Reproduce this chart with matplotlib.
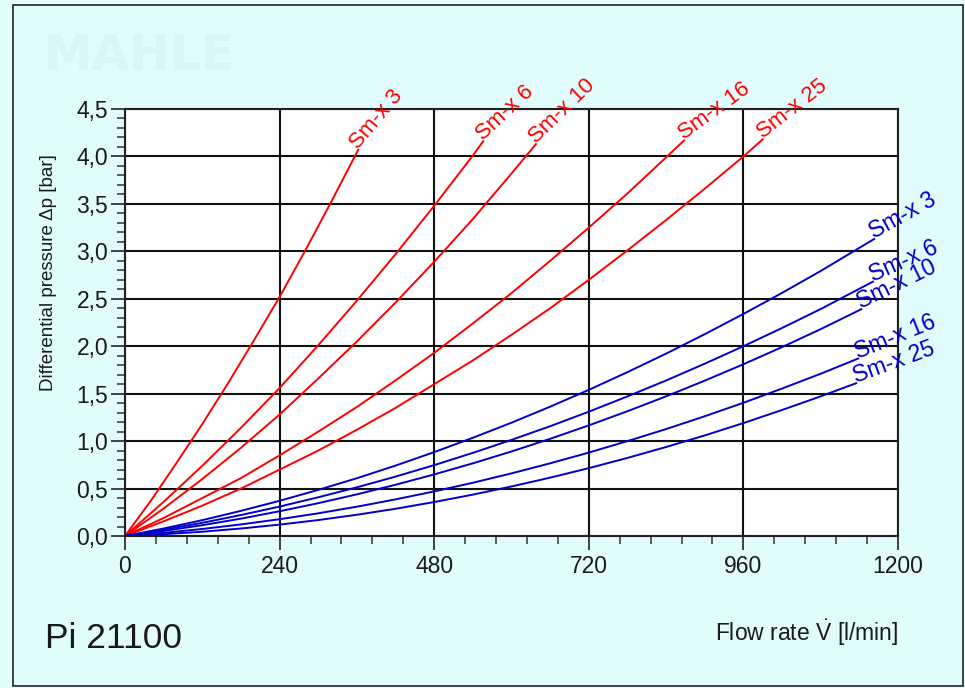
import matplotlib
matplotlib.use("Agg")
import matplotlib.pyplot as plt
from matplotlib.patches import Rectangle
from matplotlib.ticker import MultipleLocator, FixedLocator

plt.rcParams['font.family'] = ['Liberation Sans', 'DejaVu Sans']
plt.rcParams['mathtext.fontset'] = 'custom'
plt.rcParams['mathtext.rm'] = 'Liberation Sans'
plt.rcParams['mathtext.it'] = 'Liberation Sans:italic'
plt.rcParams['mathtext.bf'] = 'Liberation Sans:bold'

# ---------------- data ----------------
x_ticks = [0, 240, 480, 720, 960, 1200]
y_ticks = [0.0, 0.5, 1.0, 1.5, 2.0, 2.5, 3.0, 3.5, 4.0, 4.5]
y_ticklabels = ["0,0", "0,5", "1,0", "1,5", "2,0", "2,5", "3,0", "3,5", "4,0", "4,5"]

labels = ["Sm-x 3", "Sm-x 6", "Sm-x 10", "Sm-x 16", "Sm-x 25"]

# red family
red_q_3 = [0, 40, 80, 120, 160, 200, 240, 280, 320, 362]
red_p_3 = [0, 0.37, 0.77, 1.18, 1.61, 2.06, 2.52, 3.01, 3.52, 4.07]
red_q_6 = [0, 60, 120, 180, 240, 300, 360, 420, 480, 540, 556]
red_p_6 = [0, 0.36, 0.74, 1.14, 1.56, 2.01, 2.48, 2.97, 3.48, 4.01, 4.16]
red_q_10 = [0, 60, 120, 180, 240, 300, 360, 420, 480, 540, 600, 638]
red_p_10 = [0, 0.29, 0.60, 0.93, 1.28, 1.66, 2.05, 2.46, 2.89, 3.34, 3.82, 4.13]
red_q_16 = [0, 60, 120, 180, 240, 300, 360, 420, 480, 540, 600, 660, 720, 780, 840, 868]
red_p_16 = [0, 0.19, 0.40, 0.61, 0.85, 1.10, 1.36, 1.64, 1.93, 2.24, 2.56, 2.90, 3.25, 3.61, 3.99, 4.17]
red_q_25 = [0, 60, 120, 180, 240, 300, 360, 420, 480, 540, 600, 660, 720, 780, 840, 900, 960, 990]
red_p_25 = [0, 0.155, 0.32, 0.50, 0.70, 0.90, 1.12, 1.35, 1.60, 1.85, 2.12, 2.40, 2.70, 3.01, 3.33, 3.66, 4.00, 4.18]

# blue family
blue_q = [0, 60, 120, 180, 240, 300, 360, 420, 480, 540, 600, 660, 720, 780, 840, 900, 960, 1020, 1080]
blue_p_3 = [0, 0.079, 0.167, 0.265, 0.371, 0.486, 0.609, 0.742, 0.884, 1.035, 1.194, 1.363, 1.540, 1.727, 1.922, 2.127, 2.340, 2.562, 2.793]
blue_p_6 = [0, 0.066, 0.139, 0.221, 0.310, 0.408, 0.513, 0.626, 0.747, 0.876, 1.013, 1.157, 1.310, 1.471, 1.639, 1.816, 2.000, 2.192, 2.392]
blue_p_10 = [0, 0.053, 0.114, 0.183, 0.261, 0.346, 0.439, 0.540, 0.649, 0.766, 0.891, 1.024, 1.166, 1.315, 1.472, 1.637, 1.810, 1.991, 2.180]
blue_p_16 = [0, 0.033, 0.074, 0.122, 0.177, 0.239, 0.309, 0.386, 0.470, 0.561, 0.660, 0.766, 0.879, 1.000, 1.127, 1.262, 1.404, 1.554, 1.710]
blue_p_25 = [0, 0.019, 0.045, 0.079, 0.120, 0.168, 0.224, 0.287, 0.358, 0.436, 0.522, 0.615, 0.715, 0.823, 0.938, 1.060, 1.190, 1.328, 1.472]
blue_end_q = [1163, 1161, 1143, 1138, 1135]
blue_end_p = [3.13, 2.68, 2.39, 1.87, 1.61]

red_series = [(red_q_3, red_p_3), (red_q_6, red_p_6), (red_q_10, red_p_10),
              (red_q_16, red_p_16), (red_q_25, red_p_25)]
blue_series = [blue_p_3, blue_p_6, blue_p_10, blue_p_16, blue_p_25]

red_label_angles = [50, 43, 44, 36, 38]
blue_label_angles = [29, 24, 26, 22, 20]

# ---------------- figure ----------------
BG = '#e0fcfc'
RED = '#ff0000'
BLUE = '#0000c8'
TXT = '#1a1a1a'

fig = plt.figure(figsize=(9.65, 6.88), dpi=100)
fig.patch.set_facecolor(BG)

# outer frame
fig.patches.append(Rectangle((13/965, 2/688), (963-13)/965, (683-2)/688,
                             transform=fig.transFigure, fill=False,
                             edgecolor='#333333', linewidth=1.3))

# faint MAHLE watermark
fig.text(43/965, 1 - 70/688, "MAHLE", color='#d8f5f7', fontsize=35,
         fontweight='bold', family='DejaVu Sans', ha='left', va='baseline')

ax = fig.add_axes([125/965, 1 - 536/688, (898-125)/965, (536-109)/688])
ax.set_facecolor('white')
ax.set_xlim(0, 1200)
ax.set_ylim(0, 4.5)

ax.xaxis.set_major_locator(FixedLocator(x_ticks))
ax.xaxis.set_minor_locator(MultipleLocator(48))
ax.yaxis.set_major_locator(FixedLocator(y_ticks))
ax.yaxis.set_minor_locator(MultipleLocator(0.1))
ax.set_xticklabels([str(v) for v in x_ticks])
ax.set_yticklabels(y_ticklabels)

ax.tick_params(which='major', direction='out', length=10, width=1.3, color='#333333',
               labelsize=16.5, labelcolor=TXT, pad=2)
ax.tick_params(which='minor', direction='out', length=6, width=1.1, color='#333333')
ax.tick_params(axis='x', which='major', pad=4)

ax.grid(True, which='major', color='#111111', linewidth=1.5)
ax.set_axisbelow(True)
for s in ax.spines.values():
    s.set_color('#222222')
    s.set_linewidth(1.5)

for (q, p), lab, ang in zip(red_series, labels, red_label_angles):
    ax.plot(q, p, color=RED, linewidth=1.4, zorder=3)
    ax.text(q[-1], p[-1], lab, color=RED, fontsize=16, rotation=ang,
            rotation_mode='anchor', ha='left', va='baseline', zorder=4,
            clip_on=False)

for p, lab, ang, eq, ep in zip(blue_series, labels, blue_label_angles, blue_end_q, blue_end_p):
    ax.plot(blue_q + [eq], p + [ep], color=BLUE, linewidth=1.4, zorder=3)
    ax.text(eq, ep, lab, color=BLUE, fontsize=16.5, rotation=ang,
            rotation_mode='anchor', ha='left', va='baseline', zorder=4,
            clip_on=False)

fig.text(40/965, 1 - 391/688, "Differential pressure Δp [bar]", rotation=90,
         fontsize=13.5, color=TXT, ha='left', va='bottom')
fig.text(898/965, 1 - 633/688, r"Flow rate $\dot{\mathrm{V}}$ [l/min]", fontsize=16.5,
         color=TXT, ha='right', va='center')
fig.text(45/965, 1 - 638/688, "Pi 21100", fontsize=25.5, color=TXT,
         ha='left', va='center')

fig.savefig("out.png", dpi=100, facecolor=BG)
